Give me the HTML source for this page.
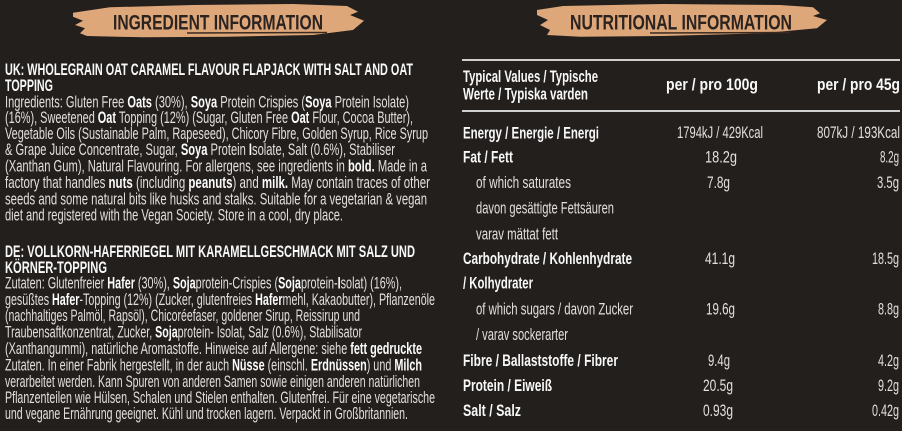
<!DOCTYPE html>
<html><head><meta charset="utf-8"><style>
html,body{margin:0;padding:0;background:#231f1d;}
svg{display:block;}
text{font-family:"Liberation Sans Narrow","Liberation Sans",sans-serif;}
.r{fill:#e2dfdd;font-size:17px;}
.b{font-weight:bold;fill:#fcfcfc;}
.t{font-weight:bold;fill:#f8f8f8;font-size:16.5px;}
.h{font-weight:bold;fill:#2b2320;font-size:21px;}
</style></head><body>
<svg width="902" height="431" viewBox="0 0 902 431" xmlns="http://www.w3.org/2000/svg">
<rect width="902" height="431" fill="#231f1d"/>
<!-- banners -->
<path d="M73,12.7 L110,7.3 L193,5 L293,4 L347,6 L358,11.7 L350,15 L364,20.7 L353,30 L313,35 L227,36.7 L143,37.3 L87,36 L80,33.3 L85,28.3 L75,25 L83,20.7 L73,16.7 Z" fill="#dea77a"/>
<path d="M187,33 L327,32.5" stroke="#3a2a20" stroke-width="1.5"/>
<text class="h" x="113" y="29.5" textLength="210" lengthAdjust="spacingAndGlyphs">INGREDIENT INFORMATION</text>
<path d="M537,10 L563,6 L663,4 L780,5 L813,7.3 L820,13.3 L813,16 L827,20 L817,28.3 L763,33.3 L663,36 L580,36.7 L547,35 L550,30 L540,25 L548,20 L537,15 Z" fill="#dea77a"/>
<path d="M650,33 L790,32.5" stroke="#3a2a20" stroke-width="1.5"/>
<text class="h" x="570" y="29.5" textLength="222" lengthAdjust="spacingAndGlyphs">NUTRITIONAL INFORMATION</text>

<!-- UK block -->
<text class="t" x="5" y="75" textLength="408" lengthAdjust="spacingAndGlyphs">UK: WHOLEGRAIN OAT CARAMEL FLAVOUR FLAPJACK WITH SALT AND OAT</text>
<text class="t" x="5" y="91" textLength="48" lengthAdjust="spacingAndGlyphs">TOPPING</text>
<text class="r" x="5" y="107.5" textLength="404" lengthAdjust="spacingAndGlyphs">Ingredients: Gluten Free <tspan class="b">Oats</tspan> (30%), <tspan class="b">Soya</tspan> Protein Crispies (<tspan class="b">Soya</tspan> Protein Isolate)</text>
<text class="r" x="5" y="123" textLength="408" lengthAdjust="spacingAndGlyphs">(16%), Sweetened <tspan class="b">Oat</tspan> Topping (12%) (Sugar, Gluten Free <tspan class="b">Oat</tspan> Flour, Cocoa Butter),</text>
<text class="r" x="5" y="139" textLength="423" lengthAdjust="spacingAndGlyphs">Vegetable Oils (Sustainable Palm, Rapeseed), Chicory Fibre, Golden Syrup, Rice Syrup</text>
<text class="r" x="5" y="155" textLength="390" lengthAdjust="spacingAndGlyphs">&amp; Grape Juice Concentrate, Sugar, <tspan class="b">Soya</tspan> Protein <tspan class="b">I</tspan>solate, Salt (0.6%), Stabiliser</text>
<text class="r" x="5" y="171.5" textLength="422" lengthAdjust="spacingAndGlyphs">(Xanthan Gum), Natural Flavouring.  For allergens, see ingredients in <tspan class="b">bold.</tspan> Made in a</text>
<text class="r" x="5" y="188" textLength="425" lengthAdjust="spacingAndGlyphs">factory that handles <tspan class="b">nuts</tspan> (including <tspan class="b">peanuts</tspan>) and <tspan class="b">milk.</tspan> May contain traces of other</text>
<text class="r" x="5" y="204.5" textLength="422" lengthAdjust="spacingAndGlyphs">seeds and some natural bits like husks and stalks. Suitable for a vegetarian &amp; vegan</text>
<text class="r" x="5" y="220.5" textLength="338" lengthAdjust="spacingAndGlyphs">diet and registered with the Vegan Society. Store in a cool, dry place.</text>

<!-- DE block -->
<text class="t" x="5" y="257" textLength="410" lengthAdjust="spacingAndGlyphs">DE: VOLLKORN-HAFERRIEGEL MIT KARAMELLGESCHMACK MIT SALZ UND</text>
<text class="t" x="5" y="273" textLength="102" lengthAdjust="spacingAndGlyphs">KÖRNER-TOPPING</text>
<text class="r" x="5" y="288.5" textLength="397" lengthAdjust="spacingAndGlyphs">Zutaten: Glutenfreier <tspan class="b">Hafer</tspan> (30%), <tspan class="b">Soja</tspan>protein-Crispies (<tspan class="b">Soja</tspan>protein-<tspan class="b">I</tspan>solat) (16%),</text>
<text class="r" x="5" y="305" textLength="430" lengthAdjust="spacingAndGlyphs">gesüßtes <tspan class="b">Hafer</tspan>-Topping (12%) (Zucker, glutenfreies <tspan class="b">Hafer</tspan>mehl, Kakaobutter), Pflanzenöle</text>
<text class="r" x="5" y="321" textLength="355" lengthAdjust="spacingAndGlyphs">(nachhaltiges Palmöl, Rapsöl), Chicoréefaser, goldener Sirup, Reissirup und</text>
<text class="r" x="5" y="337.5" textLength="357" lengthAdjust="spacingAndGlyphs">Traubensaftkonzentrat, Zucker, <tspan class="b">Soja</tspan>protein- Isolat, Salz (0.6%), Stabilisator</text>
<text class="r" x="5" y="354" textLength="417" lengthAdjust="spacingAndGlyphs">(Xanthangummi), natürliche Aromastoffe. Hinweise auf Allergene: siehe <tspan class="b">fett gedruckte</tspan></text>
<text class="r" x="5" y="370.5" textLength="417" lengthAdjust="spacingAndGlyphs">Zutaten. In einer Fabrik hergestellt, in der auch <tspan class="b">Nüsse</tspan> (einschl. <tspan class="b">Erdnüssen</tspan>) und <tspan class="b">Milch</tspan></text>
<text class="r" x="5" y="387" textLength="415" lengthAdjust="spacingAndGlyphs">verarbeitet werden. Kann Spuren von anderen Samen sowie einigen anderen natürlichen</text>
<text class="r" x="5" y="403" textLength="430" lengthAdjust="spacingAndGlyphs">Pflanzenteilen wie Hülsen, Schalen und Stielen enthalten. Glutenfrei. Für eine vegetarische</text>
<text class="r" x="5" y="419" textLength="403" lengthAdjust="spacingAndGlyphs">und vegane Ernährung geeignet. Kühl und trocken lagern. Verpackt in Großbritannien.</text>

<!-- Table -->
<rect x="462" y="59" width="438" height="2" fill="#cfcfcf"/>
<rect x="462" y="110" width="438" height="2" fill="#cfcfcf"/>
<text class="t" x="463" y="82" textLength="135" lengthAdjust="spacingAndGlyphs">Typical Values / Typische</text>
<text class="t" x="463" y="99.5" textLength="125" lengthAdjust="spacingAndGlyphs">Werte / Typiska varden</text>
<text class="t" x="666" y="90" textLength="92" lengthAdjust="spacingAndGlyphs">per / pro 100g</text>
<text class="t" x="817" y="90" textLength="83" lengthAdjust="spacingAndGlyphs">per / pro 45g</text>

<text class="t" x="463" y="138.3" textLength="136" lengthAdjust="spacingAndGlyphs">Energy / Energie / Energi</text>
<text class="r" x="677" y="138" textLength="86" lengthAdjust="spacingAndGlyphs">1794kJ / 429Kcal</text>
<text class="r" x="817" y="138" textLength="83" lengthAdjust="spacingAndGlyphs">807kJ / 193Kcal</text>

<text class="t" x="463" y="162.7" textLength="50" lengthAdjust="spacingAndGlyphs">Fat / Fett</text>
<text class="r" x="705" y="162.7" textLength="32" lengthAdjust="spacingAndGlyphs">18.2g</text>
<text class="r" x="880" y="162.7" textLength="19" lengthAdjust="spacingAndGlyphs">8.2g</text>

<text class="r" x="476" y="188" textLength="95" lengthAdjust="spacingAndGlyphs">of which saturates</text>
<text class="r" x="707" y="188" textLength="23" lengthAdjust="spacingAndGlyphs">7.8g</text>
<text class="r" x="877" y="188" textLength="22" lengthAdjust="spacingAndGlyphs">3.5g</text>

<text class="r" x="476" y="213.5" textLength="138" lengthAdjust="spacingAndGlyphs">davon gesättigte Fettsäuren</text>
<text class="r" x="476" y="239.3" textLength="82" lengthAdjust="spacingAndGlyphs">varav mättat fett</text>

<text class="t" x="463" y="264" textLength="169" lengthAdjust="spacingAndGlyphs">Carbohydrate / Kohlenhydrate</text>
<text class="r" x="705" y="264" textLength="30" lengthAdjust="spacingAndGlyphs">41.1g</text>
<text class="r" x="872" y="264" textLength="27" lengthAdjust="spacingAndGlyphs">18.5g</text>

<text class="t" x="463" y="288.5" textLength="70" lengthAdjust="spacingAndGlyphs">/ Kolhydrater</text>

<text class="r" x="476" y="314.5" textLength="157" lengthAdjust="spacingAndGlyphs">of which sugars / davon Zucker</text>
<text class="r" x="706" y="314.5" textLength="29" lengthAdjust="spacingAndGlyphs">19.6g</text>
<text class="r" x="878" y="314.5" textLength="21" lengthAdjust="spacingAndGlyphs">8.8g</text>

<text class="r" x="476" y="340" textLength="92" lengthAdjust="spacingAndGlyphs">/ varav sockerarter</text>

<text class="t" x="463" y="366" textLength="155" lengthAdjust="spacingAndGlyphs">Fibre / Ballaststoffe / Fibrer</text>
<text class="r" x="708" y="366" textLength="22" lengthAdjust="spacingAndGlyphs">9.4g</text>
<text class="r" x="878" y="366" textLength="21" lengthAdjust="spacingAndGlyphs">4.2g</text>

<text class="t" x="463" y="391" textLength="89" lengthAdjust="spacingAndGlyphs">Protein / Eiweiß</text>
<text class="r" x="703" y="391" textLength="30" lengthAdjust="spacingAndGlyphs">20.5g</text>
<text class="r" x="878" y="391" textLength="21" lengthAdjust="spacingAndGlyphs">9.2g</text>

<text class="t" x="463" y="416" textLength="58" lengthAdjust="spacingAndGlyphs">Salt / Salz</text>
<text class="r" x="703" y="416" textLength="30" lengthAdjust="spacingAndGlyphs">0.93g</text>
<text class="r" x="872" y="416" textLength="27" lengthAdjust="spacingAndGlyphs">0.42g</text>
</svg>
</body></html>
